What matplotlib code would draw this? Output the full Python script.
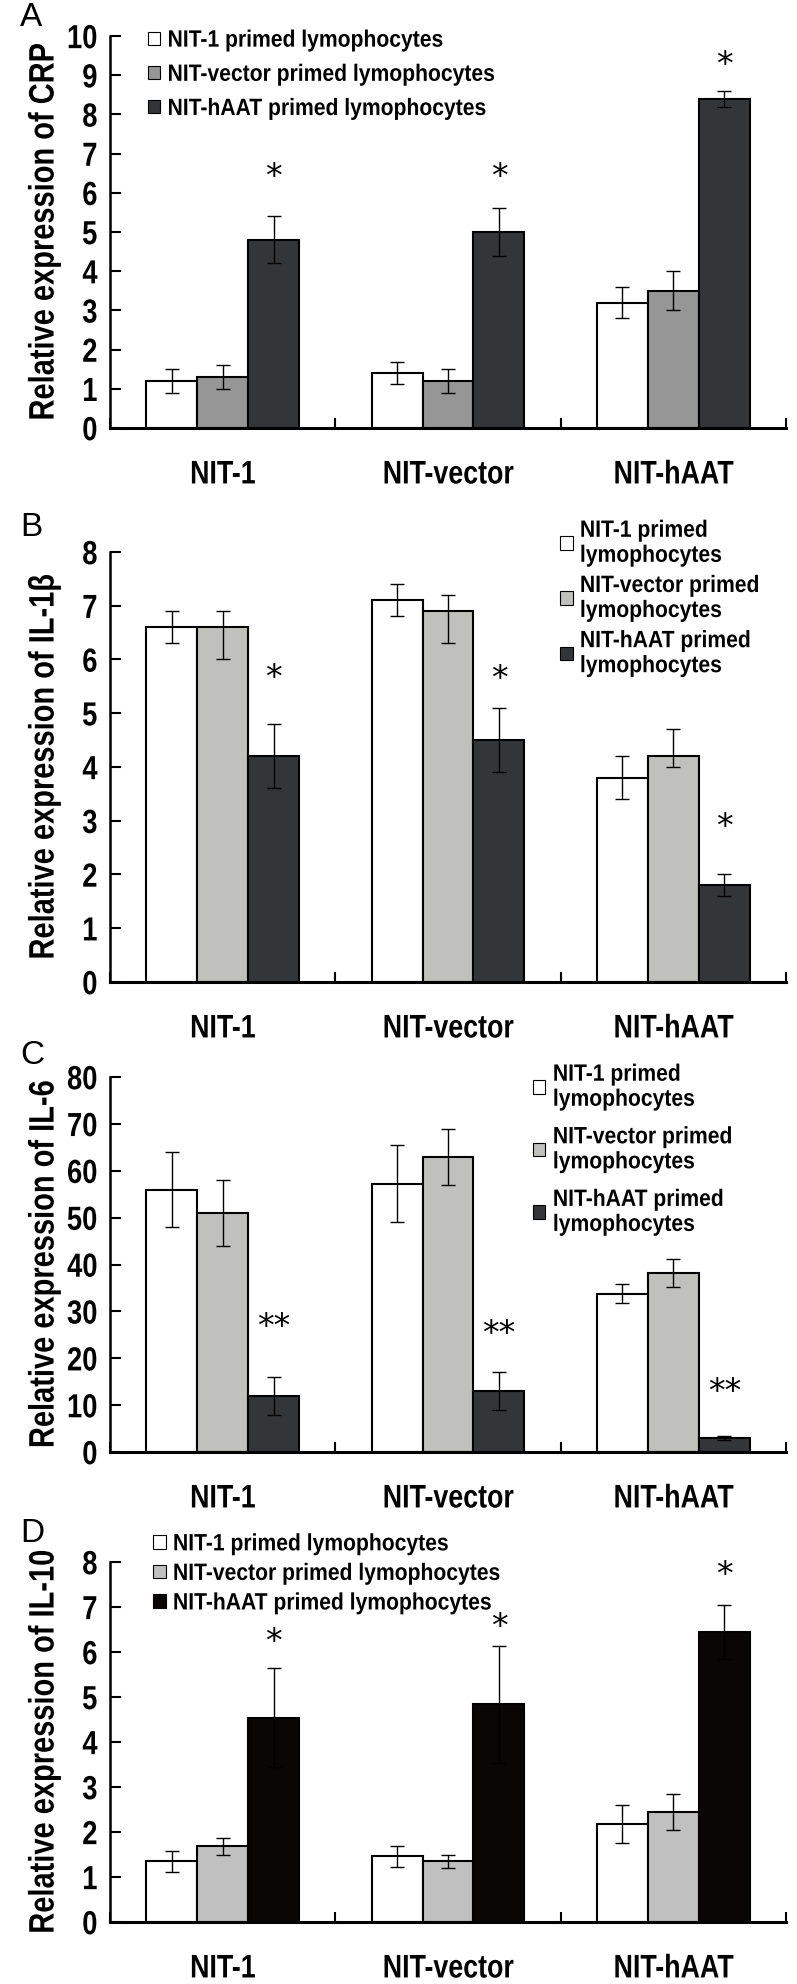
import numpy as np
import matplotlib
matplotlib.use("Agg")
import matplotlib.pyplot as plt
from matplotlib.patches import Patch
from matplotlib.patheffects import AbstractPathEffect
from matplotlib.transforms import Affine2D

plt.rcParams['font.family'] = ['Liberation Sans', 'DejaVu Sans']

categories = ["NIT-1", "NIT-vector", "NIT-hAAT"]
series_multi = ["NIT-1 primed\nlymophocytes", "NIT-vector primed\nlymophocytes", "NIT-hAAT primed\nlymophocytes"]
series_single = ["NIT-1 primed lymophocytes", "NIT-vector primed lymophocytes", "NIT-hAAT primed lymophocytes"]

# panel A - CRP
crp_mean = [[1.2, 1.4, 3.2], [1.3, 1.2, 3.5], [4.8, 5.0, 8.4]]
crp_err = [[0.3, 0.28, 0.4], [0.3, 0.3, 0.5], [0.6, 0.6, 0.2]]
crp_sig = [6.4, 6.4, 9.25]

# panel B - IL-1beta (asymmetric errors: lower, upper)
il1b_mean = [[6.6, 7.1, 3.8], [6.6, 6.9, 4.2], [4.2, 4.5, 1.8]]
il1b_lo = [[0.3, 0.3, 0.4], [0.6, 0.6, 0.2], [0.6, 0.6, 0.2]]
il1b_hi = [[0.3, 0.3, 0.4], [0.3, 0.3, 0.5], [0.6, 0.6, 0.2]]
il1b_sig = [5.65, 5.63, 2.87]

# panel C - IL-6
il6_mean = [[56, 57.2, 33.8], [51, 63, 38.1], [12, 13, 3.0]]
il6_err = [[8, 8.2, 2.1], [7, 6, 3], [4, 4, 0.4]]
il6_sig = [26.5, 25.0, 12.8]

# panel D - IL-10
il10_mean = [[1.35, 1.46, 2.18], [1.68, 1.35, 2.44], [4.54, 4.84, 6.45]]
il10_err = [[0.23, 0.24, 0.42], [0.19, 0.15, 0.4], [1.1, 1.3, 0.6]]
il10_sig = [6.2, 6.55, 7.7]


class Tall(AbstractPathEffect):
    '''stretch glyphs across the text direction (Arial Narrow look)'''
    def __init__(self, sy=1.22, y0=36):
        super().__init__()
        self.sy = sy
        self.y0 = y0

    def draw_path(self, renderer, gc, tpath, affine, rgbFace=None):
        t = Affine2D().translate(0, -self.y0).scale(1, self.sy).translate(0, self.y0) + affine
        renderer.draw_path(gc, tpath, t, rgbFace)


TALL = [Tall()]
W, H = 797, 1984
fig = plt.figure(figsize=(W / 100, H / 100), dpi=100)


def add_axes(top_px, bottom_px):
    return fig.add_axes([110 / W, 1 - bottom_px / H, 676 / W, (bottom_px - top_px) / H])


def draw_panel(ax, means, lo, hi, colors, ymax, ystep, ylabel, sig, sig_text, legend_labels, legend_loc):
    x = np.arange(3) + 0.5
    bw = 0.226
    for i in range(3):
        xs = x + (i - 1) * bw
        ax.bar(xs, means[i], width=bw, color=colors[i], edgecolor='black', linewidth=1.5,
               label=legend_labels[i], zorder=2)
        ax.errorbar(xs, means[i], yerr=[lo[i], hi[i]], fmt='none', ecolor='black',
                    elinewidth=1.0, capsize=5, capthick=1.0, zorder=3)
    xs = x + bw
    for xi, yi in zip(xs, sig):
        ax.text(xi, yi, sig_text, ha='center', va='center', fontsize=24,
                family='DejaVu Sans', color='black')
    ax.set_xlim(0, 3)
    ax.set_ylim(0, ymax)
    ax.set_yticks(np.arange(0, ymax + ystep / 2, ystep))
    ax.set_xticks([0, 1, 2, 3])
    ax.set_xticklabels([])
    ax.set_xticks(x, minor=True)
    ax.set_xticklabels(categories, minor=True, fontsize=19.3, fontweight='bold')
    ax.tick_params(axis='x', which='minor', length=0, pad=24)
    ax.tick_params(axis='x', which='major', direction='in', length=7, width=1.5)
    ax.tick_params(axis='y', direction='in', length=8, width=1.5, labelsize=19.7, pad=9)
    for lab in ax.get_yticklabels():
        lab.set_fontweight('bold')
        lab.set_path_effects(TALL)
    for lab in ax.get_xticklabels(minor=True):
        lab.set_path_effects(TALL)
    for s in ['top', 'right']:
        ax.spines[s].set_visible(False)
    ax.spines['left'].set_linewidth(1.8)
    ax.spines['bottom'].set_linewidth(2.2)
    yl = ax.set_ylabel(ylabel, fontsize=20.9, fontweight='bold')
    yl.set_path_effects(TALL)
    ax.yaxis.set_label_coords(-0.078, 0.5)
    handles = [Patch(facecolor=c, edgecolor='black', linewidth=0.8) for c in colors]
    leg = ax.legend(handles, legend_labels, frameon=False, prop={'size': 15.2, 'weight': 'bold'},
                    handlelength=0.6, handleheight=0.6, handletextpad=0.35, labelspacing=legend_loc[2],
                    loc='upper left', bbox_to_anchor=(legend_loc[0], legend_loc[1]), borderaxespad=0)
    for t in leg.get_texts():
        t.set_path_effects([Tall(1.12)])
        t.set_linespacing(1.4)


# panel A
axA = add_axes(36, 428)
draw_panel(axA, crp_mean, crp_err, crp_err, ['white', '#969696', '#333638'], 10, 1,
           'Relative expression of CRP', crp_sig, '*', series_single, (0.043, 1.035, 0.72))
# panel B
axB = add_axes(552, 982)
draw_panel(axB, il1b_mean, il1b_lo, il1b_hi, ['white', '#c0c0bc', '#333638'], 8, 1,
           'Relative expression of IL-1β', il1b_sig, '*', series_multi, (0.653, 1.092, 0.53))
# panel C
axC = add_axes(1077, 1452)
draw_panel(axC, il6_mean, il6_err, il6_err, ['white', '#c0c0bc', '#333638'], 80, 10,
           'Relative expression of IL-6', il6_sig, '**', series_multi, (0.613, 1.055, 0.88))
# panel D
axD = add_axes(1562, 1922)
draw_panel(axD, il10_mean, il10_err, il10_err, ['white', '#c0c0c0', '#0a0606'], 8, 1,
           'Relative expression of IL-10', il10_sig, '*', series_single, (0.051, 1.1, 0.5))

for letter, ypx in [('A', 18), ('B', 527), ('C', 1055), ('D', 1533)]:
    fig.text(20 / W, 1 - ypx / H, letter, fontsize=24, ha='left', va='center')

fig.savefig('out.png', dpi=100)
